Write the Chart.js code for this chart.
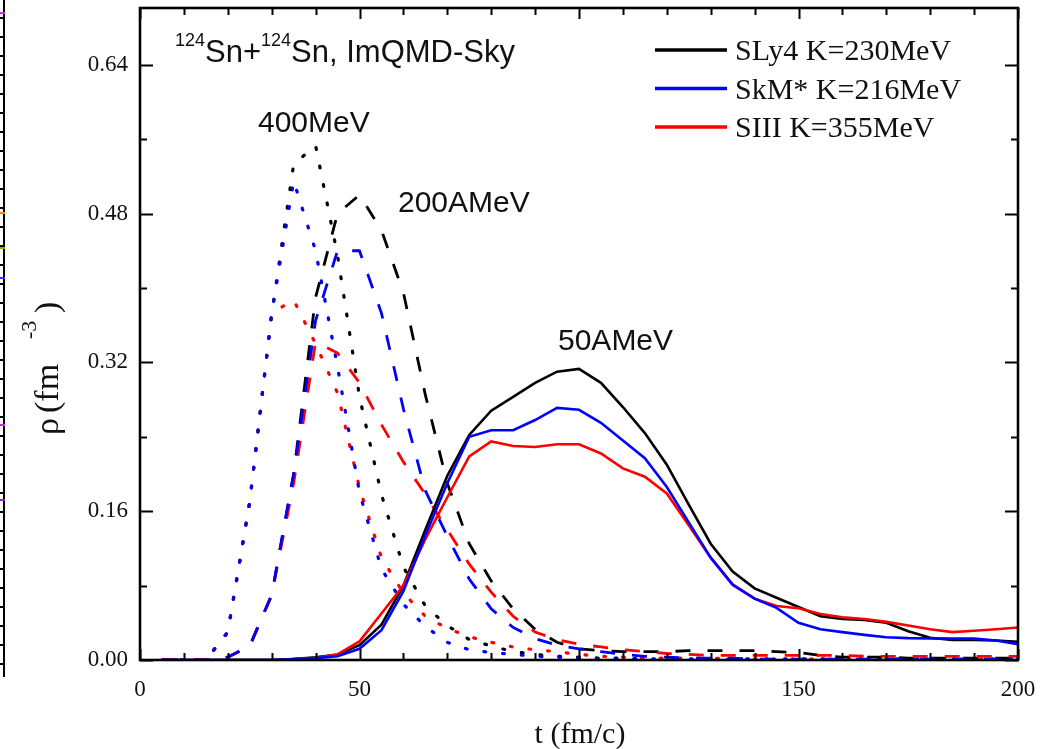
<!DOCTYPE html>
<html>
<head>
<meta charset="utf-8">
<title>Density evolution, 124Sn+124Sn</title>
<script src="https://cdn.jsdelivr.net/npm/chart.js@4.4.1/dist/chart.umd.min.js"></script>
<style>
    html, body { margin: 0; padding: 0; background: #fff; }
    #wrap { position: relative; width: 1049px; height: 749px; }
    #rhochart { position: absolute; left: 0; top: 0; }
    /* neighbouring panel's axis, cut off at the left edge */
    #edge { position: absolute; left: 0; top: 0; width: 3px; height: 677px; border-right: 2px solid #000;
            background: repeating-linear-gradient(to bottom, transparent 0 17px, #000 17px 19px); }
    #edge span { position: absolute; left: 0; width: 5px; height: 2px; }
</style>
</head>
<body>
<div id="wrap">
    <canvas id="rhochart" width="1049" height="749"></canvas>
    <div id="edge">
        <span style="top:12px;background:#e020e0"></span>
        <span style="top:212px;background:#ff8c00"></span>
        <span style="top:247px;background:#a0a000"></span>
        <span style="top:277px;background:#3030ff"></span>
        <span style="top:424px;background:#e020e0"></span>
        <span style="top:499px;background:#9020c0"></span>
    </div>
</div>
<script>
// time steps (fm/c)
var tValues = [5, 10, 15, 20, 25, 30, 35, 40, 45, 50, 55, 60, 65, 70, 75, 80, 85, 90, 95, 100,
               105, 110, 115, 120, 125, 130, 135, 140, 145, 150, 155, 160, 165, 170, 175, 180, 185, 190, 195, 200];

// central density, 50 AMeV (solid)
var sly4_50 = [0, 0, 0, 0, 0, 0, 0.001, 0.003, 0.006, 0.016, 0.038, 0.08, 0.14, 0.198, 0.242, 0.268, 0.283, 0.298, 0.31, 0.313,
               0.298, 0.272, 0.244, 0.21, 0.167, 0.125, 0.095, 0.077, 0.067, 0.057, 0.047, 0.044, 0.043, 0.04, 0.031, 0.024, 0.0215, 0.0215, 0.021, 0.0197];
var skm_50  = [0, 0, 0, 0, 0, 0, 0.001, 0.002, 0.004, 0.012, 0.032, 0.074, 0.134, 0.19, 0.24, 0.247, 0.247, 0.258, 0.271, 0.269,
               0.255, 0.236, 0.217, 0.186, 0.148, 0.11, 0.081, 0.066, 0.056, 0.04, 0.033, 0.03, 0.027, 0.0245, 0.0235, 0.0233, 0.023, 0.023, 0.021, 0.017];
var siii_50 = [0, 0, 0, 0, 0, 0, 0.001, 0.002, 0.006, 0.02, 0.05, 0.08, 0.13, 0.175, 0.219, 0.235, 0.23, 0.229, 0.232, 0.232,
               0.222, 0.206, 0.197, 0.179, 0.145, 0.11, 0.081, 0.066, 0.058, 0.0556, 0.0495, 0.046, 0.044, 0.041, 0.037, 0.033, 0.03, 0.0315, 0.033, 0.035];

// 200 AMeV (dashed)
var sly4_200 = [0, 0, 0, 0.003, 0.015, 0.07, 0.2, 0.39, 0.48, 0.5, 0.462, 0.395, 0.285, 0.19, 0.125, 0.085, 0.055, 0.033, 0.019, 0.012,
                0.01, 0.009, 0.009, 0.009, 0.01, 0.01, 0.01, 0.01, 0.009, 0.008, 0.005, 0.003, 0.003, 0.003, 0.002, 0.002, 0.002, 0.002, 0.002, 0.002];
var skm_200  = [0, 0, 0, 0.003, 0.015, 0.07, 0.2, 0.365, 0.44, 0.44, 0.373, 0.27, 0.182, 0.133, 0.087, 0.055, 0.035, 0.023, 0.016, 0.012,
                0.009, 0.006, 0.004, 0.003, 0.002, 0.002, 0.002, 0.001, 0.001, 0.001, 0.001, 0.001, 0.001, 0.001, 0.001, 0.001, 0.001, 0.001, 0.001, 0.001];
var siii_200 = [0, 0, 0, 0.003, 0.015, 0.07, 0.19, 0.342, 0.33, 0.298, 0.253, 0.213, 0.178, 0.14, 0.103, 0.073, 0.047, 0.03, 0.022, 0.017,
                0.014, 0.011, 0.009, 0.007, 0.006, 0.005, 0.005, 0.005, 0.005, 0.005, 0.005, 0.005, 0.004, 0.004, 0.004, 0.004, 0.004, 0.004, 0.004, 0.004];

// 400 MeV (dotted)
var sly4_400 = [0, 0, 0, 0.03, 0.17, 0.372, 0.533, 0.553, 0.435, 0.283, 0.178, 0.1, 0.058, 0.037, 0.022, 0.015, 0.009, 0.006, 0.004, 0.003,
                0.002, 0.002, 0.001, 0.001, 0.001, 0.001, 0.001, 0.001, 0.001, 0.001, 0.001, 0.001, 0.001, 0.001, 0.001, 0.001, 0.001, 0.001, 0.001, 0.001];
var skm_400  = [0, 0, 0, 0.03, 0.17, 0.373, 0.515, 0.44, 0.315, 0.18, 0.098, 0.06, 0.036, 0.019, 0.011, 0.008, 0.006, 0.004, 0.003, 0.002,
                0.001, 0.001, 0.001, 0.001, 0.001, 0.001, 0.001, 0.001, 0.001, 0.001, 0.001, 0.001, 0.001, 0.001, 0.001, 0.001, 0.001, 0.001, 0.001, 0.001];
var siii_400 = [0, 0, 0, 0.03, 0.17, 0.373, 0.387, 0.34, 0.287, 0.185, 0.11, 0.072, 0.047, 0.034, 0.025, 0.019, 0.014, 0.011, 0.009, 0.006,
                0.004, 0.003, 0.002, 0.002, 0.002, 0.002, 0.001, 0.001, 0.001, 0.001, 0.001, 0.001, 0.001, 0.001, 0.001, 0.001, 0.001, 0.001, 0.001, 0.001];

var legendNames = ["SLy4 K=230MeV", "SkM* K=216MeV", "SIII K=355MeV"];
var legendColors = ["#000000", "#0000ff", "#ff0000"];

var xTickValues = [0, 10, 20, 30, 40, 50, 60, 70, 80, 90, 100, 110, 120, 130, 140, 150, 160, 170, 180, 190, 200];
var xTickLabels = ["0", "", "", "", "", "50", "", "", "", "", "100", "", "", "", "", "150", "", "", "", "", "200"];
var yTickValues = [0, 0.08, 0.16, 0.24, 0.32, 0.40, 0.48, 0.56, 0.64];
var yTickLabels = ["0.00", "", "0.16", "", "0.32", "", "0.48", "", "0.64"];

var SERIF = '"Liberation Serif", "Times New Roman", serif';
var SANS = '"Liberation Sans", Arial, sans-serif';

function points(values){
    return tValues.map(function(t, i){ return {x: t, y: values[i]}; });
}
function solid(color, values, order){
    return {data: points(values), borderColor: color, borderWidth: 2.6, order: order, borderCapStyle: 'butt'};
}
function dashed(color, values, order){
    return {data: points(values), borderColor: color, borderWidth: 2.8, borderDash: [15, 17], order: order, borderCapStyle: 'butt'};
}
function dotted(color, values, order){
    return {data: points(values), borderColor: color, borderWidth: 3.2, borderDash: [1.8, 17], order: order, borderCapStyle: 'round'};
}

// text pieces drawn one after another, some raised as superscripts
function drawPieces(c, pieces, x, y){
    pieces.forEach(function(p){
        c.font = p.font;
        c.fillText(p.text, x, y + (p.dy || 0));
        x += c.measureText(p.text).width;
    });
}

var framePlugin = {
    id: 'frame',
    afterDatasetsDraw: function(chart){
        var c = chart.ctx, a = chart.chartArea;
        var xs = chart.scales.x, ys = chart.scales.y;
        c.save();
        c.strokeStyle = '#000';
        c.lineWidth = 2;
        c.beginPath();
        xTickValues.forEach(function(v, i){
            var px = Math.round(xs.getPixelForValue(v)) + 0.5;
            var len = xTickLabels[i] ? 11 : 7;
            c.moveTo(px, a.bottom); c.lineTo(px, a.bottom - len);
            c.moveTo(px, a.top); c.lineTo(px, a.top + len);
        });
        yTickValues.forEach(function(v, i){
            var py = Math.round(ys.getPixelForValue(v)) + 0.5;
            var len = yTickLabels[i] ? 13 : 7;
            c.moveTo(a.left, py); c.lineTo(a.left + len, py);
            c.moveTo(a.right, py); c.lineTo(a.right - len, py);
        });
        c.stroke();
        c.lineWidth = 2.6;
        c.strokeRect(a.left, a.top, a.right - a.left, a.bottom - a.top);
        c.restore();
    },
    afterDraw: function(chart){
        var c = chart.ctx;
        c.save();
        c.fillStyle = '#111';
        c.textBaseline = 'alphabetic';
        c.textAlign = 'left';

        // reaction label
        var big = '31px ' + SANS, sup = '18px ' + SANS;
        drawPieces(c, [
            {text: '124', font: sup, dy: -16},
            {text: 'Sn+', font: big},
            {text: '124', font: sup, dy: -16},
            {text: 'Sn, ImQMD-Sky', font: big}
        ], 175, 62);

        // beam energies
        c.font = '30px ' + SANS;
        c.fillText('400MeV', 258, 132);
        c.fillText('200AMeV', 398, 212);
        c.fillText('50AMeV', 558, 350);

        // legend
        legendNames.forEach(function(name, i){
            var ly = 50 + i * 38.5;
            c.strokeStyle = legendColors[i];
            c.lineWidth = 3.6;
            c.beginPath();
            c.moveTo(655, ly); c.lineTo(727, ly);
            c.stroke();
            c.font = '30px ' + SERIF;
            c.fillText(name, 735, ly + 10);
        });

        // x axis title
        c.font = '30px ' + SERIF;
        c.textAlign = 'center';
        c.fillText('t (fm/c)', 580, 743);

        // y axis title, read bottom to top
        c.textAlign = 'left';
        c.translate(58, 435);
        c.rotate(-Math.PI / 2);
        c.font = '34px ' + SERIF;
        c.fillText('\u03c1', 0, 0);
        c.fillText('(fm', 22, 0);
        c.font = '22px ' + SERIF;
        c.fillText('-3', 96, -22);
        c.font = '34px ' + SERIF;
        c.fillText(')', 122, 0);
        c.restore();
    }
};

var ctx = document.getElementById("rhochart").getContext('2d');
var rhoChart = new Chart(ctx, {
    type: 'line',
    data: {
        datasets: [
            solid("#0000ff", skm_50, 0),
            solid("#ff0000", siii_50, 1),
            solid("#000000", sly4_50, 2),
            dashed("#0000ff", skm_200, 3),
            dashed("#ff0000", siii_200, 4),
            dashed("#000000", sly4_200, 5),
            dotted("#0000ff", skm_400, 6),
            dotted("#ff0000", siii_400, 7),
            dotted("#000000", sly4_400, 8)
        ]
    },
    options: {
        responsive: false,
        animation: false,
        devicePixelRatio: 1,
        layout: {padding: {left: 0, top: 8, right: 31, bottom: 0}},
        elements: {point: {radius: 0, hoverRadius: 0}, line: {tension: 0, fill: false}},
        plugins: {legend: {display: false}, tooltip: {enabled: false}},
        scales: {
            x: {
                type: 'linear', min: 0, max: 200,
                grid: {display: false, drawTicks: false},
                border: {display: false},
                afterBuildTicks: function(scale){
                    scale.ticks = xTickValues.map(function(v){ return {value: v}; });
                },
                afterFit: function(scale){
                    scale.height = 89;
                    scale.paddingLeft = 0; scale.paddingRight = 0;
                },
                ticks: {
                    autoSkip: false, maxRotation: 0, padding: 16, color: '#111',
                    font: {family: SERIF, size: 23},
                    callback: function(value, index){ return xTickLabels[index]; }
                }
            },
            y: {
                type: 'linear', min: 0, max: 0.701,
                grid: {display: false, drawTicks: false},
                border: {display: false},
                afterBuildTicks: function(scale){
                    scale.ticks = yTickValues.map(function(v){ return {value: v}; });
                },
                afterFit: function(scale){
                    scale.width = 140;
                    scale.paddingTop = 0; scale.paddingBottom = 0;
                },
                ticks: {
                    autoSkip: false, padding: 12, color: '#111',
                    font: {family: SERIF, size: 23},
                    callback: function(value, index){ return yTickLabels[index]; }
                }
            }
        }
    },
    plugins: [framePlugin]
});
</script>
</body>
</html>
